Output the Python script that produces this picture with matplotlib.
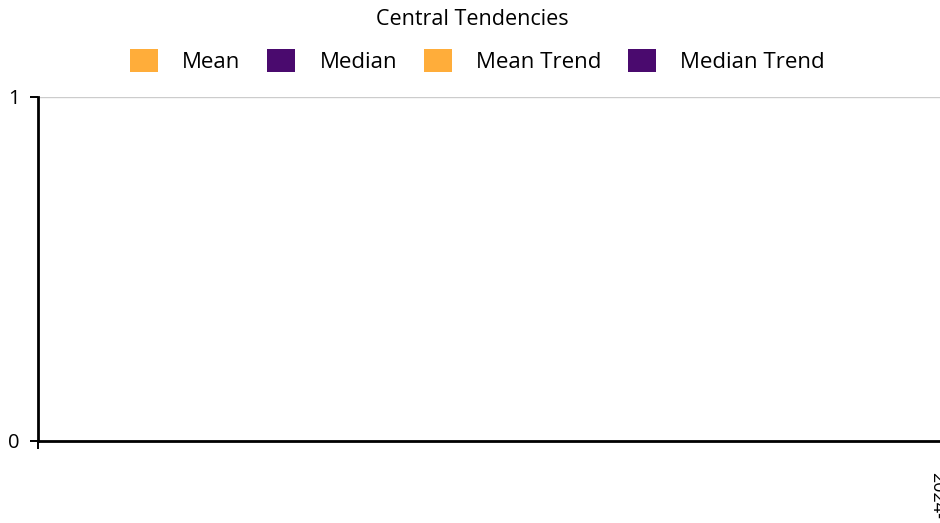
import matplotlib.pyplot as plt
from matplotlib.patches import Patch

# the source chart has no data points, only an empty axis
categories = []
mean_values = []
median_values = []
mean_trend = []
median_trend = []
last_label = "2024-12-31"

series_names = ["Mean", "Median", "Mean Trend", "Median Trend"]
series_colors = ["#FFAD3A", "#4A0A6E", "#FFAD3A", "#4A0A6E"]

plt.rcParams["font.family"] = ["Open Sans", "DejaVu Sans"]

fig = plt.figure(figsize=(9.4, 5.23), dpi=100)
ax = fig.add_axes([38 / 940, 1 - 441 / 523, 1 - 38 / 940, (441 - 97) / 523])

ax.bar(range(len(categories)), mean_values, color=series_colors[0])
ax.bar(range(len(categories)), median_values, color=series_colors[1])
ax.plot(range(len(categories)), mean_trend, color=series_colors[2])
ax.plot(range(len(categories)), median_trend, color=series_colors[3])

ax.set_ylim(0, 1)
ax.set_yticks([0, 1])
ax.set_xlim(0, 1)
ax.set_xticks([0, 0.997])
ax.set_xticklabels(["", last_label], rotation=-90, va="top", ha="center")
ax.xaxis.get_major_ticks()[1].tick1line.set_visible(False)

ax.yaxis.grid(True, color="#cccccc", linewidth=1)
ax.set_axisbelow(True)
for side in ["top", "right"]:
    ax.spines[side].set_visible(False)
for side in ["left", "bottom"]:
    ax.spines[side].set_linewidth(2)
    ax.spines[side].set_color("black")
    ax.spines[side].set_zorder(3)

ax.tick_params(axis="y", length=6, width=1.4, labelsize=14.5, pad=7)
ax.tick_params(axis="x", length=6, width=1.4, labelsize=13, pad=16)

handles = [Patch(facecolor=c, edgecolor="none") for c in series_colors]
fig.legend(handles, series_names, loc="upper center", bbox_to_anchor=(0.508, 0.945),
           ncol=4, frameon=False, fontsize=16, handlelength=1.25, handleheight=1.25,
           handletextpad=1.1, columnspacing=1.2)
fig.text(0.502, 0.962, "Central Tendencies", ha="center", va="center", fontsize=15.5)

fig.savefig("out.png", dpi=100)
